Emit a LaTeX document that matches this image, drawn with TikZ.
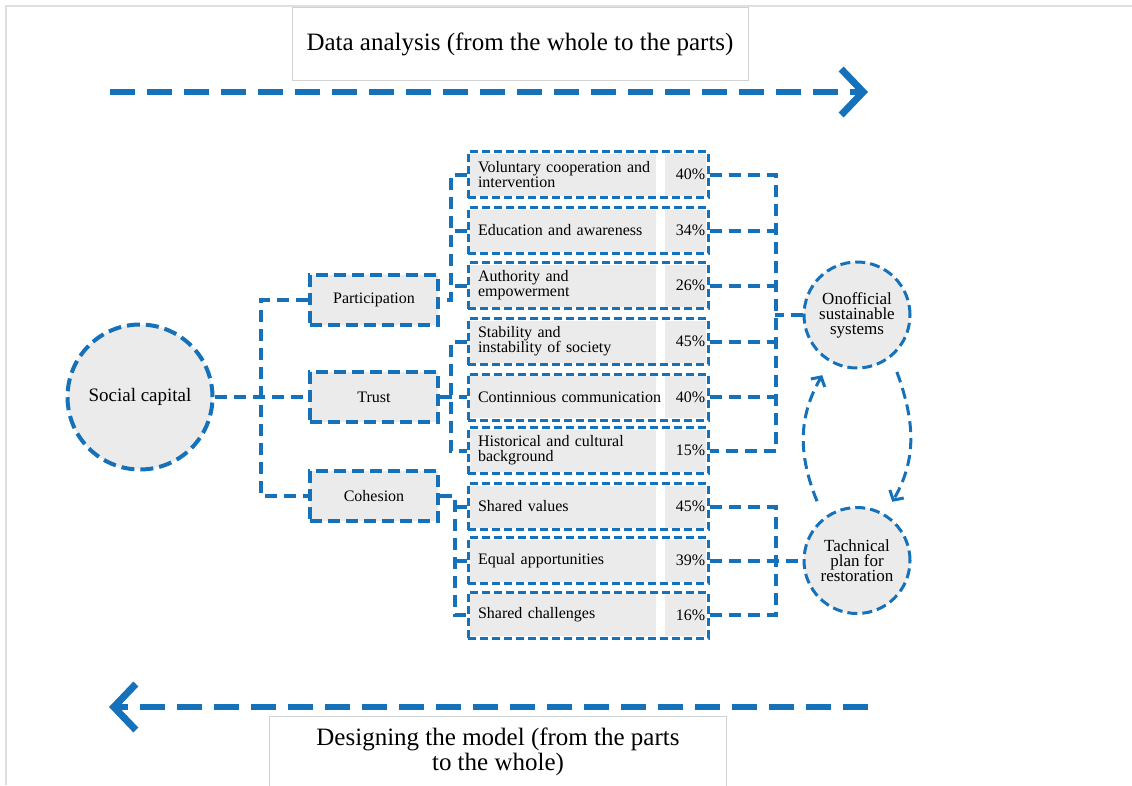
\documentclass[tikz,border=0pt]{standalone}
\usepackage{fontspec}
\setmainfont{Liberation Serif}
\usepackage{tikz}
\usetikzlibrary{arrows.meta}
\definecolor{lineblue}{RGB}{20,113,186}
\definecolor{cellgray}{RGB}{235,235,235}

\begin{document}
\begin{tikzpicture}[x=1pt,y=-1pt,
  conn/.style={draw=lineblue,line width=4pt,dash pattern=on 12pt off 7pt},
  midbox/.style={draw=lineblue,fill=cellgray,line width=4pt,dash pattern=on 12pt off 6pt,minimum width=128pt,minimum height=50pt,font=\fontsize{16}{16}\selectfont},
  rowbox/.style={draw=lineblue,line width=3pt,dash pattern=on 8pt off 4pt,minimum height=46pt,text width=220pt,inner xsep=10pt,inner ysep=0pt,align=left,font=\fontsize{16}{15}\selectfont,
    path picture={\fill[cellgray] ([shift={(2pt,2pt)}]path picture bounding box.south west) rectangle ([shift={(188pt,-2pt)}]path picture bounding box.north west);
      \fill[cellgray] ([shift={(197pt,2pt)}]path picture bounding box.south west) rectangle ([shift={(-2pt,-2pt)}]path picture bounding box.north east);}},
  pct/.style={anchor=east,xshift=-4pt,inner sep=0pt,font=\fontsize{16}{16}\selectfont},
  bigcirc/.style={circle,draw=lineblue,fill=cellgray,line width=4pt,dash pattern=on 13pt off 6pt,minimum size=145pt,inner sep=0pt,font=\fontsize{19}{19}\selectfont},
  smallcirc/.style={circle,draw=lineblue,fill=cellgray,line width=3pt,dash pattern=on 10pt off 5pt,minimum size=106pt,inner sep=0pt,align=center,font=\fontsize{17}{15}\selectfont},
  titlebox/.style={draw=gray!35,line width=1pt,fill=white,align=center,font=\fontsize{25}{25}\selectfont},
  bigarrow/.style={draw=lineblue,line width=6pt,dash pattern=on 25pt off 12pt,-{Straight Barb[length=22pt,width=46pt,line width=7pt]}},
  cycarrow/.style={draw=lineblue,line width=3pt,dash pattern=on 11pt off 6pt,-{Straight Barb[length=7pt,width=16pt]}}]
\useasboundingbox (0,0) rectangle (1132,785);
\draw[gray!25,line width=2pt] (6,785)--(6,6)--(1132,6);

\node[titlebox,minimum width=456pt,minimum height=73pt] (DA)at(520,44){Data analysis (from the whole to the parts)};
\node[titlebox,minimum width=457pt,minimum height=72pt] (DM)at(498,752){Designing the model (from the parts\\to the whole)};
\coordinate (da0)at(110,92); \coordinate (da1)at(868,92);
\coordinate (dm0)at(868,707); \coordinate (dm1)at(109,707);
\draw[bigarrow] (da0)--(da1);
\draw[bigarrow] (dm0)--(dm1);

\node[bigcirc] (SC)at(140,397){Social capital};
\node[midbox] (P)at(374,300){Participation};
\node[midbox] (T)at(374,397){Trust};
\node[midbox] (C)at(374,496){Cohesion};

\node[rowbox,label={[pct]east:40\%}] (P1)at(588,174.5){Voluntary cooperation and\\intervention};
\node[rowbox,label={[pct]east:34\%}] (P2)at(588,230.5){Education and awareness};
\node[rowbox,label={[pct]east:26\%}] (P3)at(588,285.5){Authority and\\empowerment};
\node[rowbox,label={[pct]east:45\%}] (T1)at(588,341.5){Stability and\\instability of society};
\node[rowbox,label={[pct]east:40\%}] (T2)at(588,397){Continnious communication};
\node[rowbox,label={[pct]east:15\%}] (T3)at(588,450.5){Historical and cultural\\background};
\node[rowbox,label={[pct]east:45\%}] (C1)at(588,506.5){Shared values};
\node[rowbox,label={[pct]east:39\%}] (C2)at(588,560.5){Equal apportunities};
\node[rowbox,label={[pct]east:16\%}] (C3)at(588,615){Shared challenges};

\node[smallcirc] (ON)at(857,315){Onofficial\\sustainable\\systems};
\node[smallcirc] (TP)at(857,560.5){Tachnical\\plan for\\restoration};

% social capital to the three groups
\draw[conn] (SC.east)--(T.west);
\draw[conn] (P.west)--++(-47,0)|-(C.west);
% groups to their items
\draw[conn] (P1.west)--++(-16,0)|-(P.east);
\draw[conn] (P2.west)--++(-16,0);
\draw[conn] (P3.west)--++(-16,0);
\draw[conn] (T1.west)--++(-16,0)|-(T3.west);
\draw[conn] (T.east)--(T2.west);
\draw[conn] (C.east)--++(15,0)|-(C3.west);
\draw[conn] (C1.west)--++(-16,0);
\draw[conn] (C2.west)--++(-16,0);
% items to the two outcomes
\draw[conn] (P1.east)--++(66,0)|-(T3.east);
\draw[conn] (P2.east)--++(66,0);
\draw[conn] (P3.east)--++(66,0);
\draw[conn] (T1.east)--++(66,0);
\draw[conn] (T2.east)--++(66,0);
\draw[conn] (ON.west)--++(-28,0);
\draw[conn] (C1.east)--++(66,0)|-(C3.east);
\draw[conn] (C2.east)--(TP.west);
% cycle between the outcomes
\draw[cycarrow] ([shift={(124:17pt)}]TP.124) to[out=112,in=240] ([shift={(240:15pt)}]ON.240);
\draw[cycarrow] ([shift={(305:15pt)}]ON.305) to[out=290,in=60] ([shift={(59:14pt)}]TP.59);
\end{tikzpicture}
\end{document}
